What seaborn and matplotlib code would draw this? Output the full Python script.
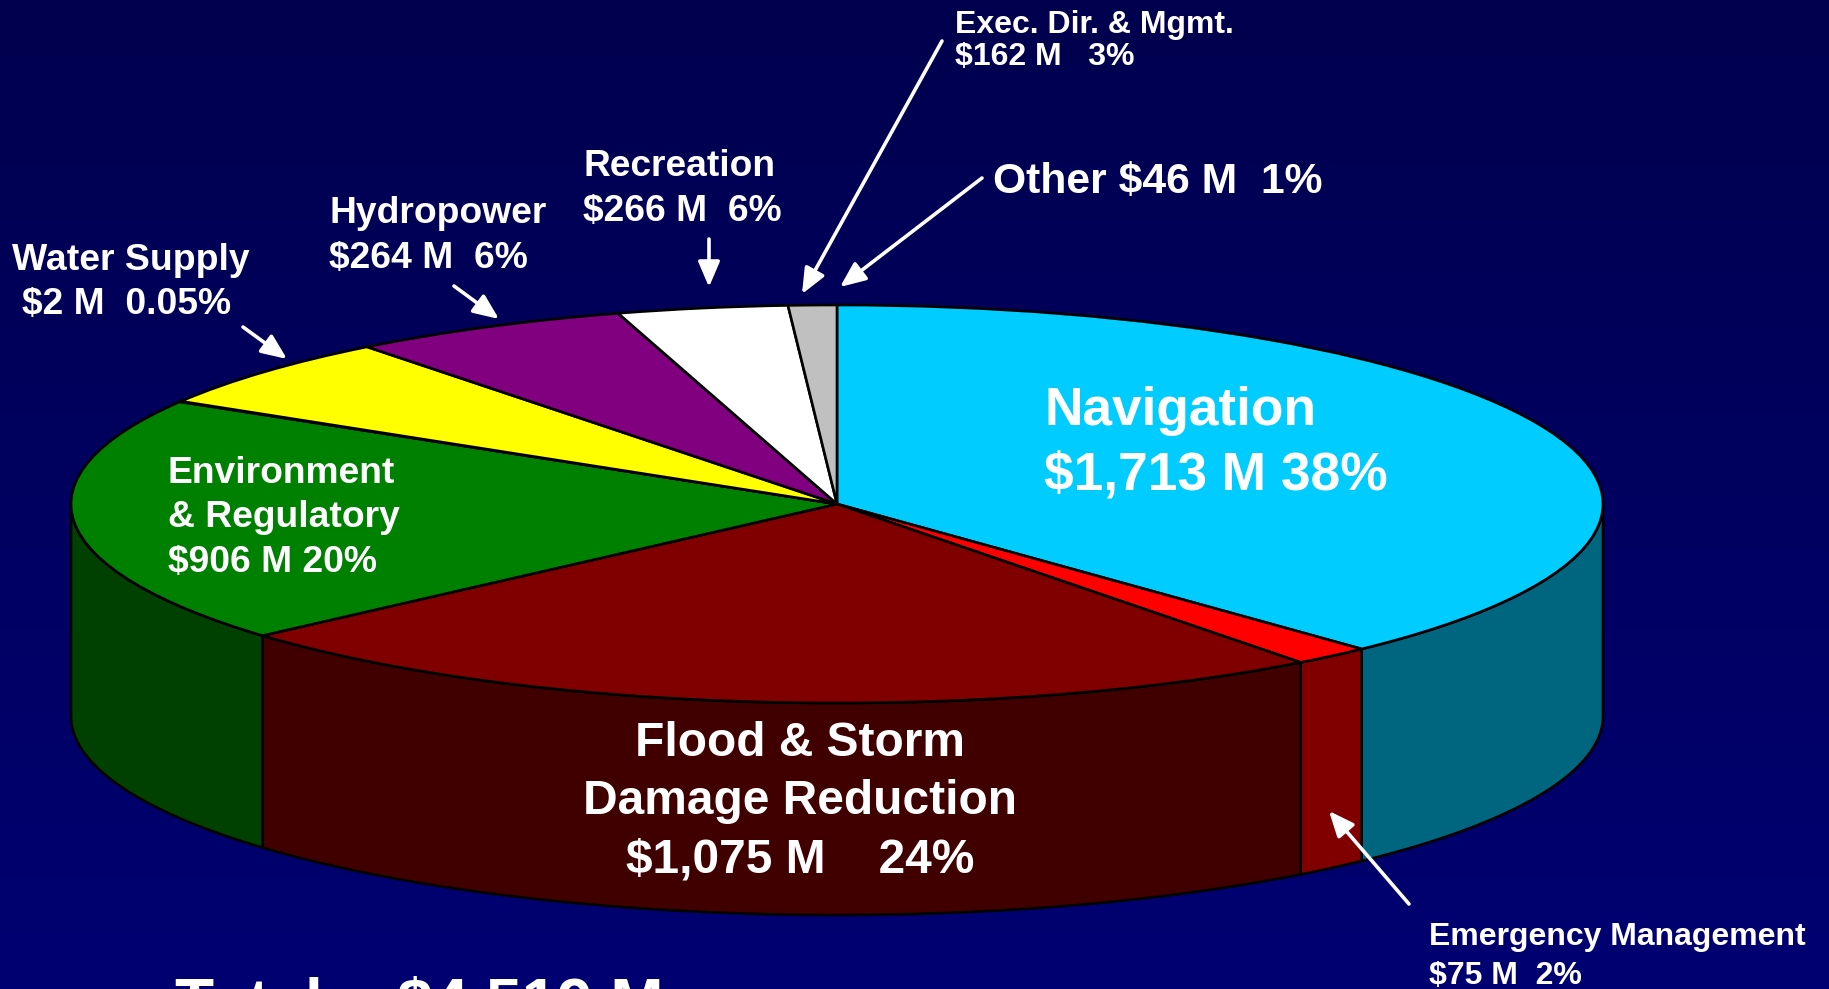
import numpy as np
import matplotlib
matplotlib.use('Agg')
import matplotlib.pyplot as plt
import seaborn as sns

# budget slices, clockwise from 12 o'clock
programs = ['Navigation', 'Emergency Management', 'Flood & Storm Damage Reduction',
            'Environment & Regulatory', 'Water Supply', 'Hydropower', 'Recreation',
            'Exec. Dir. & Mgmt.', 'Other']
amounts = [1713, 75, 1075, 906, 2, 264, 266, 162, 46]
top_colors = ['#00CCFF', '#FF0000', '#800000', '#008000', '#008000',
              '#FFFF00', '#800080', '#FFFFFF', '#C0C0C0']
total_label = 'Total:   $4,519 M'

W, H = 1829, 989
CX, CY = 837, 504     # pie centre, pixels
RX, RY = 766, 199     # ellipse radii, pixels
DEPTH = 212           # height of the side wall, pixels

sns.set_theme(style='white')
plt.rcParams['font.family'] = ['Liberation Sans', 'DejaVu Sans']
plt.rcParams['font.weight'] = 'bold'

fig = plt.figure(figsize=(W / 100, H / 100), dpi=100)

# background gradient
bg = fig.add_axes([0, 0, 1, 1])
bg.imshow(np.linspace(0, 1, 256).reshape(-1, 1), aspect='auto',
          cmap=sns.blend_palette(['#00004E', '#000072'], as_cmap=True))
bg.axis('off')

# pie axes: one data unit = one radius, squashed into an ellipse
ax = fig.add_axes([0, 0, 1, 1])
ax.patch.set_alpha(0)
palette = sns.color_palette(top_colors)
wedges, _ = ax.pie(amounts, colors=palette, startangle=90, counterclock=False,
                   wedgeprops={'edgecolor': 'black', 'linewidth': 1.9, 'zorder': 3})
ax.set_aspect('auto')
ax.set_xlim(-CX / RX, (W - CX) / RX)
ax.set_ylim((CY - H) / RY, CY / RY)

# side walls for the front half, same angles as the wedges
drop = DEPTH / RY
for wedge, color in zip(wedges, palette):
    lo, hi = max(wedge.theta1, -180), min(wedge.theta2, 0)
    if lo >= hi:
        continue
    t = np.radians(np.linspace(lo, hi, 80))
    xs = np.r_[np.cos(t), np.cos(t[::-1])]
    ys = np.r_[np.sin(t), np.sin(t[::-1]) - drop]
    ax.fill(xs, ys, facecolor=np.array(color) * 0.5, edgecolor='black', linewidth=1.9, zorder=2)

# overlay in pixel coordinates for labels and arrows
ov = fig.add_axes([0, 0, 1, 1])
ov.set_xlim(0, W)
ov.set_ylim(H, 0)
ov.axis('off')
ov.patch.set_alpha(0)


def label(x, ys, lines, size, ha='left'):
    for y, line in zip(ys, lines):
        ov.text(x, y, line, color='white', fontsize=size, fontweight='bold', ha=ha, va='baseline')


label(1044, [425, 489], ['Navigation', '$1,713 M 38%'], 38.3)
label(800, [756, 814, 873], ['Flood & Storm', 'Damage Reduction', '$1,075 M    24%'], 34.5, ha='center')
label(168, [483, 527, 572], ['Environment', '& Regulatory', '$906 M 20%'], 26.8)
label(12, [270], ['Water Supply'], 26.9)
label(22, [314], ['$2 M  0.05%'], 26.8)
label(329, [223, 268], ['Hydropower', '$264 M  6%'], 26.8)
label(583, [176, 221], ['Recreation', '$266 M  6%'], 26.7)
label(955, [33, 65], ['Exec. Dir. & Mgmt.', '$162 M   3%'], 23)
label(993, [193], ['Other $46 M  1%'], 30.7)
label(1429, [945, 984], ['Emergency Management', '$75 M  2%'], 23)
label(175, [1024], [total_label], 46)

arrows = [((243, 327), (287, 359)),
          ((454, 286), (499, 319)),
          ((709, 239), (709, 287)),
          ((942, 41), (802, 294)),
          ((982, 178), (840, 287)),
          ((1409, 904), (1329, 811))]
for start, end in arrows:
    ov.annotate('', xy=end, xytext=start,
                arrowprops={'arrowstyle': '-|>,head_length=0.7,head_width=0.3', 'color': 'white',
                            'linewidth': 2.6, 'shrinkA': 0, 'shrinkB': 0, 'mutation_scale': 22})

plt.savefig('out.png', dpi=100)
